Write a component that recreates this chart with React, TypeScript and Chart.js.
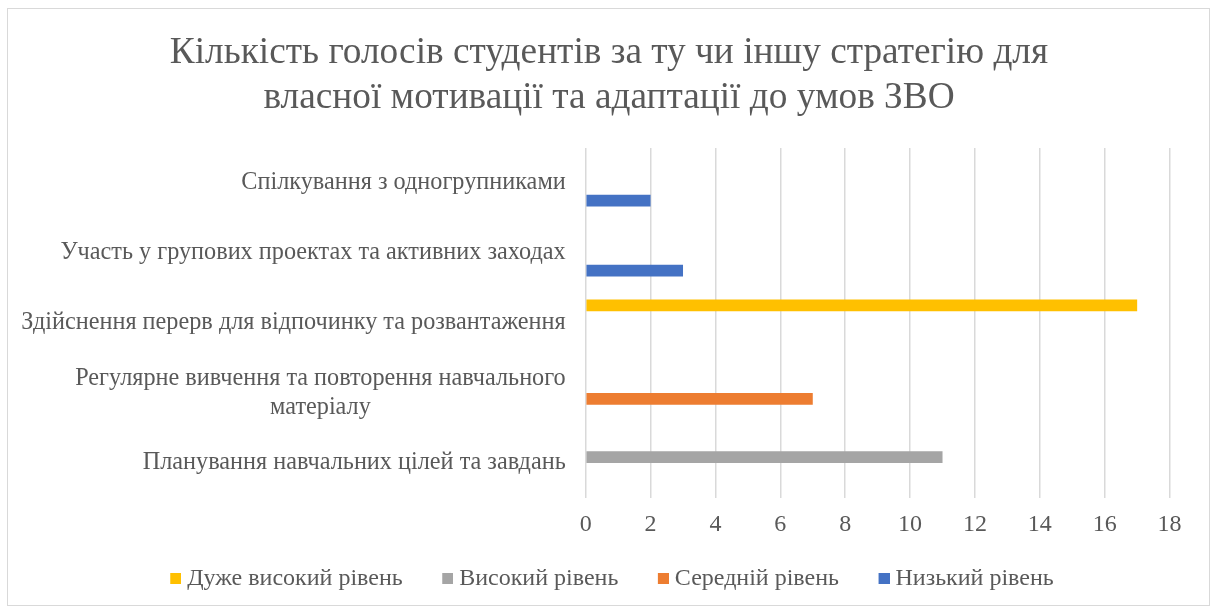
import React, { useEffect, useRef } from 'react';
import { Chart, registerables } from 'chart.js';

Chart.register(...registerables);

const titleLines = [
  'Кількість голосів студентів за ту чи іншу стратегію для',
  'власної мотивації та адаптації до умов ЗВО',
];

const categories: string[][] = [
  ['Спілкування з одногрупниками'],
  ['Участь у групових проектах та активних заходах'],
  ['Здійснення перерв для відпочинку та розвантаження'],
  ['Регулярне вивчення та повторення навчального', 'матеріалу'],
  ['Планування навчальних цілей та завдань'],
];

const seriesNames = ['Дуже високий рівень', 'Високий рівень', 'Середній рівень', 'Низький рівень'];
const veryHigh = [null, null, 17, null, null];
const high = [null, null, null, null, 11];
const medium = [null, null, null, 7, null];
const low = [2, 3, null, null, null];
const seriesColors = ['#FFC000', '#A5A5A5', '#ED7D31', '#4472C4'];

const xMin = 0;
const xMax = 18;
const xStep = 2;

const FONT = '"Liberation Serif", "Times New Roman", serif';
const TEXT = '#595959';
const LABEL_SIZE = 24;
const CAT_SIZE = 24.25;

const yLabelsPlugin = {
  id: 'yLabels',
  afterDraw(chart: any) {
    const scale = chart.scales.y;
    const ctx = chart.ctx;
    ctx.save();
    ctx.font = `${CAT_SIZE}px ${FONT}`;
    ctx.fillStyle = TEXT;
    ctx.textBaseline = 'middle';
    ctx.textAlign = 'center';
    const right = scale.right - 20;
    const lh = 28.5;
    categories.forEach((lines, i) => {
      const y = scale.getPixelForValue(i);
      const maxW = Math.max(...lines.map((l) => ctx.measureText(l).width));
      const cx = right - maxW / 2;
      lines.forEach((l, j) => {
        ctx.fillText(l, cx, y + (j - (lines.length - 1) / 2) * lh);
      });
    });
    ctx.restore();
  },
};

function legendSwatch(color: string) {
  const c = document.createElement('canvas');
  c.width = 23;
  c.height = 11;
  const g = c.getContext('2d');
  if (g) {
    g.fillStyle = color;
    g.fillRect(12, 0, 11, 11);
  }
  return c;
}

export default function App() {
  const ref = useRef<HTMLCanvasElement | null>(null);

  useEffect(() => {
    if (!ref.current) return;
    const data = [veryHigh, high, medium, low];
    const swatches = seriesColors.map(legendSwatch);
    const padLeft = 4;
    const chart = new Chart(ref.current, {
      type: 'bar',
      data: {
        labels: categories.map((c) => c.join(' ')),
        datasets: seriesNames.map((name, i) => ({
          label: name,
          data: data[i] as any,
          backgroundColor: seriesColors[i],
          borderWidth: 0,
          categoryPercentage: 0.67,
          barPercentage: 1.0,
        })),
      },
      options: {
        indexAxis: 'y',
        animation: false,
        responsive: false,
        maintainAspectRatio: false,
        layout: { padding: { left: padLeft, right: 0, top: 0, bottom: 9.5 } },
        plugins: {
          title: {
            display: true,
            text: titleLines,
            color: TEXT,
            font: { family: FONT, size: 37.3, weight: 'normal', lineHeight: 45 / 37.3 },
            padding: { top: 31, bottom: 27 },
          },
          legend: {
            position: 'bottom',
            labels: {
              color: TEXT,
              font: { family: FONT, size: LABEL_SIZE },
              boxWidth: 11,
              boxHeight: 11,
              usePointStyle: true,
              padding: 33.5,
              generateLabels: (ch: any) => {
                const items = (Chart.defaults.plugins.legend.labels as any).generateLabels(ch);
                items.forEach((it: any) => {
                  it.pointStyle = swatches[it.datasetIndex];
                });
                return items;
              },
            },
          },
          tooltip: { enabled: false },
        },
        scales: {
          x: {
            min: xMin,
            max: xMax,
            ticks: {
              stepSize: xStep,
              color: TEXT,
              font: { family: FONT, size: LABEL_SIZE, lineHeight: 0.6 },
              padding: 19.8,
            },
            grid: { color: '#d9d9d9', lineWidth: 1.5, drawTicks: false },
            border: { display: false },
            afterFit: (s: any) => {
              s.height = 35;
            },
          },
          y: {
            ticks: { display: false },
            grid: { display: false },
            border: { display: false },
            afterFit: (s: any) => {
              s.width = 585.7 - padLeft;
            },
          },
          yRight: {
            type: 'linear',
            position: 'right',
            display: true,
            ticks: { display: false },
            grid: { display: false },
            border: { display: false },
            afterFit: (s: any) => {
              s.width = 1214 - 1169.6;
            },
          },
        },
      } as any,
      plugins: [yLabelsPlugin],
    });
    return () => chart.destroy();
  }, []);

  return (
    <div style={{ position: 'absolute', left: 0, top: 0, width: 1214, height: 610, background: '#fff' }}>
      <canvas ref={ref} width={1214} height={610} style={{ position: 'absolute', left: 0, top: 0 }} />
      <div
        style={{
          position: 'absolute',
          left: 7,
          top: 8,
          width: 1203,
          height: 598,
          boxSizing: 'border-box',
          border: '1px solid #d9d9d9',
          pointerEvents: 'none',
        }}
      />
    </div>
  );
}
